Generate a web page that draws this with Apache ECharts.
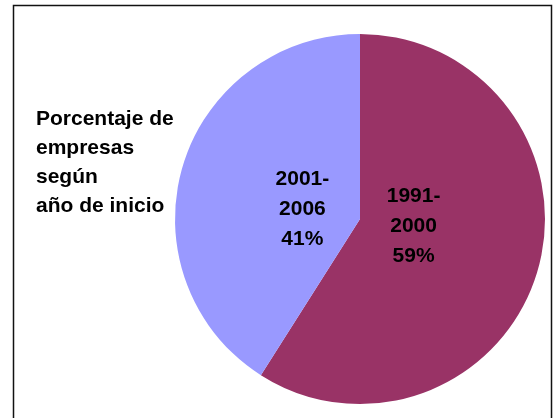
<!DOCTYPE html>
<html>
<head>
<meta charset="utf-8">
<script src="https://cdn.jsdelivr.net/npm/echarts@6/dist/echarts.min.js"></script>
<style>
  html, body { margin: 0; padding: 0; background: #fff; }
  #chart { width: 557px; height: 418px; }
</style>
</head>
<body>
<div id="chart"></div>
<script>
// datos
const periodos = ['1991-\n2000', '2001-\n2006'];
const porcentajes = [59, 41];
const colores = ['#993366', '#9999FF'];
const tituloLineas = ['Porcentaje de', 'empresas', 'según', 'año de inicio'];

const sliceData = periodos.map((p, i) => ({
    name: p,
    value: porcentajes[i],
    itemStyle: { color: colores[i] }
}));

// pequeños ajustes de la etiqueta respecto al punto medio
const ajusteEtiqueta = [[-4, -10], [0, 7]];

var myChart = echarts.init(document.getElementById('chart'));
var option = {
    animation: false,
    title: {
        text: tituloLineas.join('\n'),
        left: 31,
        top: 100,
        textStyle: {
            fontFamily: 'Liberation Sans, Arial, sans-serif',
            fontSize: 21,
            fontWeight: 'bold',
            color: '#000',
            lineHeight: 29
        }
    },
    graphic: [
        {
            type: 'rect',
            shape: { x: 13.5, y: 5.5, width: 538, height: 430 },
            style: { fill: 'none', stroke: '#111', lineWidth: 1.5 },
            silent: true
        }
    ],
    series: [
        {
            // sectores
            type: 'pie',
            center: [360, 219],
            radius: 185,
            startAngle: 90,
            clockwise: true,
            label: { show: false },
            labelLine: { show: false },
            emphasis: { disabled: true },
            data: sliceData
        },
        {
            // solo etiquetas, mas cerca del centro
            type: 'pie',
            center: [360, 219],
            radius: 114,
            startAngle: 90,
            clockwise: true,
            silent: true,
            itemStyle: { color: 'rgba(0,0,0,0)' },
            label: {
                show: true,
                position: 'inner',
                fontFamily: 'Liberation Sans, Arial, sans-serif',
                fontSize: 21,
                fontWeight: 'bold',
                color: '#000',
                lineHeight: 30,
                formatter: function (p) {
                    return p.name + '\n' + p.value + '%';
                }
            },
            labelLine: { show: false },
            data: periodos.map((p, i) => ({
                name: p,
                value: porcentajes[i],
                label: { offset: ajusteEtiqueta[i] }
            }))
        }
    ]
};
myChart.setOption(option);
</script>
</body>
</html>
